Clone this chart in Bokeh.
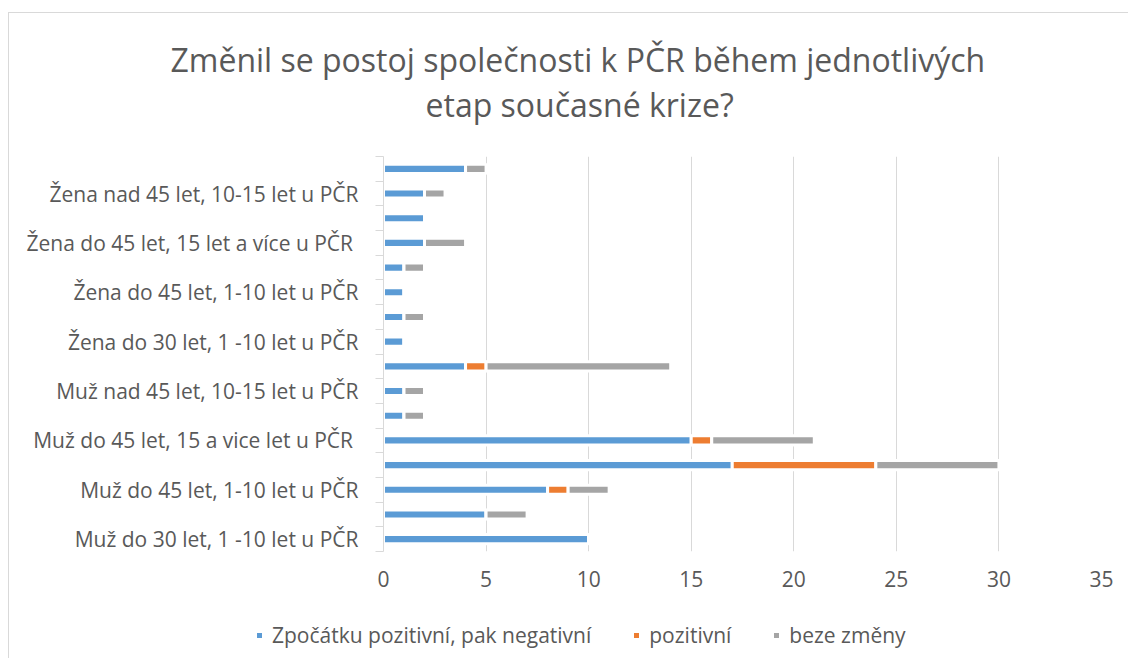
from bokeh.plotting import figure
from bokeh.layouts import column
from bokeh.models import ColumnDataSource, FixedTicker, Legend, LegendItem, Title
from bokeh.embed import file_html
from bokeh.resources import INLINE

categories = [
    "Muž do 30 let, 1 -10 let u PČR", "",
    "Muž do 45 let, 1-10 let u PČR", "",
    "Muž do 45 let, 15 a vice let u  PČR", "",
    "Muž nad 45 let, 10-15 let u PČR", "",
    "Žena do 30 let, 1 -10 let u PČR", "",
    "Žena do 45 let, 1-10 let u PČR", "",
    "Žena do 45 let, 15 let a více u  PČR", "",
    "Žena nad 45 let, 10-15 let u PČR", "",
]
zpocatku = [10, 5, 8, 17, 15, 1, 1, 4, 1, 1, 1, 1, 2, 2, 2, 4]
pozitivni = [0, 0, 1, 7, 1, 0, 0, 1, 0, 0, 0, 0, 0, 0, 0, 0]
beze_zmeny = [0, 2, 2, 6, 5, 1, 1, 9, 0, 1, 0, 1, 2, 0, 1, 1]
series_names = ["Zpočátku pozitivní, pak negativní", "pozitivní", "beze změny"]
x_ticks = [0, 5, 10, 15, 20, 25, 30, 35]
title_lines = ["Změnil se postoj společnosti k PČR během jednotlivých", "etap současné krize?"]

colors = ["#5B9BD5", "#ED7D31", "#A5A5A5"]
FONT = "Open Sans"
TXT = "#595959"
LBL = "21px"
BORDER = "1px solid #d9d9d9"

idx = list(range(len(categories)))
source = ColumnDataSource(dict(y=idx, a=zpocatku, b=pozitivni, c=beze_zmeny))

# ---------------- main chart ----------------
p = figure(
    output_backend="svg", toolbar_location=None,
    frame_width=717, frame_height=394,
    min_border_left=374, min_border_right=28,
    min_border_top=143, min_border_bottom=56,
    x_range=(0, 35), y_range=(-0.5, len(categories) - 0.5),
    background_fill_color="white", border_fill_color="white",
)
p.margin = (12, 0, 0, 8)
p.styles = {"border-top": BORDER, "border-left": BORDER}
p.outline_line_color = None

p.hbar_stack(["a", "b", "c"], y="y", height=0.37, color=colors,
             line_color="white", line_width=3, source=source)

# x axis
p.xaxis.ticker = FixedTicker(ticks=x_ticks)
p.xaxis.axis_line_color = None
p.xaxis.major_tick_line_color = None
p.xaxis.major_tick_out = 0
p.xaxis.minor_tick_line_color = None
p.xaxis.major_label_text_font = FONT
p.xaxis.major_label_text_font_size = LBL
p.xaxis.major_label_text_color = TXT
p.xaxis.major_label_standoff = 19

# y axis
p.yaxis.ticker = FixedTicker(ticks=idx, minor_ticks=[i - 0.5 for i in range(len(categories) + 1)])
p.yaxis.major_label_overrides = {i: categories[i] for i in idx}
p.yaxis.axis_line_color = "#d9d9d9"
p.yaxis.major_tick_line_color = None
p.yaxis.major_tick_out = 0
p.yaxis.major_tick_in = 0
p.yaxis.minor_tick_line_color = "#d9d9d9"
p.yaxis.minor_tick_out = 8
p.yaxis.minor_tick_in = 0
p.yaxis.major_label_text_font = FONT
p.yaxis.major_label_text_font_size = LBL
p.yaxis.major_label_text_color = TXT
p.yaxis.major_label_standoff = 17

p.xgrid.grid_line_color = "#d9d9d9"
p.xgrid.ticker = FixedTicker(ticks=x_ticks[1:])
p.ygrid.grid_line_color = None

# titles (second line added first so it sits closer to the plot)
p.add_layout(Title(text=title_lines[1], align="left", offset=42, text_font=FONT,
                   text_font_size="32px", text_font_style="normal", text_color=TXT,
                   standoff=0, padding=(0, 0, 0, 31)), "above")
p.add_layout(Title(text=title_lines[0], align="left", offset=-213, text_font=FONT,
                   text_font_size="32px", text_font_style="normal", text_color=TXT,
                   standoff=0), "above")

# ---------------- legend strip ----------------
lg = figure(
    output_backend="svg", toolbar_location=None,
    frame_width=1123, frame_height=52,
    min_border_left=0, min_border_right=0, min_border_top=0, min_border_bottom=0,
    x_axis_location=None, y_axis_location=None,
    background_fill_color="white", border_fill_color="white",
)
lg.margin = (0, 0, 0, 8)
lg.styles = {"border-left": BORDER}
lg.outline_line_color = None
lg.grid.visible = False
proxies = lg.hbar_stack(["a", "b", "c"], y="y", height=0.37, color=colors,
                        line_color="white", line_width=3, source=source, visible=False)

legend = Legend(
    items=[LegendItem(label=n, renderers=[r]) for n, r in zip(series_names, proxies)],
    orientation="horizontal", location=(245, 9), spacing=40,
    glyph_width=10, glyph_height=10, label_standoff=8,
    label_text_font=FONT, label_text_font_size=LBL, label_text_color=TXT,
    border_line_color=None, background_fill_alpha=0, margin=0, padding=6,
    inactive_fill_alpha=0,
)
lg.add_layout(legend)

layout = column(p, lg, spacing=0)
open("out.html", "w").write(file_html(layout, INLINE))
